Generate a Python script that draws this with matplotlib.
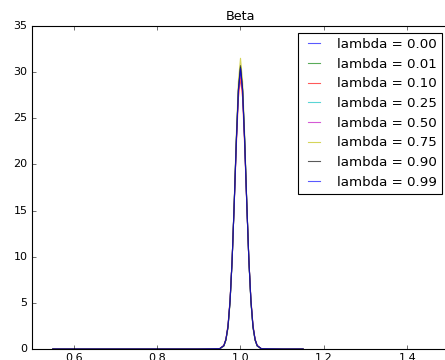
import matplotlib
matplotlib.use("Agg")
import matplotlib.pyplot as plt
import numpy as np

lambdas = [0.00, 0.01, 0.10, 0.25, 0.50, 0.75, 0.90, 0.99]

# grid of beta estimates the densities were evaluated on
beta_grid = [0.55, 0.90, 0.95, 0.96, 0.965, 0.97, 0.975, 0.98, 0.985, 0.99, 0.995,
             1.00, 1.005, 1.01, 1.015, 1.02, 1.025, 1.03, 1.035, 1.04, 1.05,
             1.10, 1.15]

# estimated density of beta for each lambda
density = [
    [0, 0, 0.03, 0.35, 1.0, 2.4, 5.2, 9.7, 15.9, 22.6, 28.1, 30.5, 28.1, 22.6, 15.9, 9.7, 5.2, 2.4, 1.0, 0.35, 0.03, 0, 0],
    [0, 0, 0.03, 0.35, 1.0, 2.4, 5.2, 9.7, 15.8, 22.5, 28.0, 30.4, 28.0, 22.5, 15.8, 9.7, 5.2, 2.4, 1.0, 0.35, 0.03, 0, 0],
    [0, 0, 0.04, 0.40, 1.1, 2.6, 5.4, 9.8, 15.7, 22.0, 27.2, 29.4, 27.2, 22.0, 15.7, 9.8, 5.4, 2.6, 1.1, 0.40, 0.04, 0, 0],
    [0, 0, 0.03, 0.35, 1.0, 2.4, 5.2, 9.7, 15.9, 22.6, 28.1, 30.5, 28.1, 22.6, 15.9, 9.7, 5.2, 2.4, 1.0, 0.35, 0.03, 0, 0],
    [0, 0, 0.03, 0.36, 1.0, 2.4, 5.2, 9.7, 15.8, 22.4, 27.9, 30.3, 27.9, 22.4, 15.8, 9.7, 5.2, 2.4, 1.0, 0.36, 0.03, 0, 0],
    [0, 0, 0.02, 0.30, 0.9, 2.2, 5.0, 9.6, 16.0, 23.2, 29.0, 31.5, 29.0, 23.2, 16.0, 9.6, 5.0, 2.2, 0.9, 0.30, 0.02, 0, 0],
    [0, 0, 0.03, 0.35, 1.0, 2.4, 5.2, 9.7, 15.9, 22.7, 28.2, 30.7, 28.2, 22.7, 15.9, 9.7, 5.2, 2.4, 1.0, 0.35, 0.03, 0, 0],
    [0, 0, 0.03, 0.35, 1.0, 2.4, 5.2, 9.7, 15.8, 22.5, 28.0, 30.4, 28.0, 22.5, 15.8, 9.7, 5.2, 2.4, 1.0, 0.35, 0.03, 0, 0],
]

plt.style.use("classic")
fig = plt.figure(figsize=(445 / 80, 360 / 80), dpi=80)
ax = fig.add_axes([32 / 445, 11 / 360, 417 / 445, 323 / 360])

for lam, dens in zip(lambdas, density):
    ax.plot(beta_grid, np.array(dens), alpha=0.65, label=f"lambda = {lam:.2f}")

ax.set_xlim(0.5, 1.5)
ax.set_ylim(0, 35)
ax.tick_params(labelsize=10)
ax.set_title("Beta", fontsize=11.5)
ax.legend(loc="upper right", fontsize=12, handlelength=1.5, handletextpad=1.0)

fig.savefig("out.png", dpi=80)
